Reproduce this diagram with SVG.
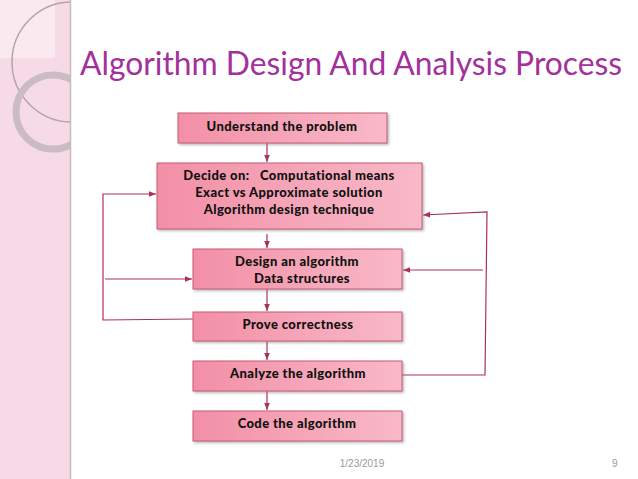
<svg xmlns="http://www.w3.org/2000/svg" width="638" height="479" viewBox="0 0 638 479">
<defs>
<linearGradient id="g" x1="0" y1="0" x2="1" y2="0"><stop offset="0" stop-color="#f28fa6"/><stop offset="1" stop-color="#f9b9c8"/></linearGradient>
<marker id="a" viewBox="0 0 10 10" refX="10" refY="5" markerWidth="6" markerHeight="6" orient="auto"><path d="M0,1 L10,5 L0,9 z" fill="#a8325a"/></marker>
<filter id="s" x="-5%" y="-10%" width="115%" height="130%"><feDropShadow dx="1.5" dy="1.5" stdDeviation="1" flood-color="#888" flood-opacity="0.6"/></filter>
<clipPath id="p"><rect width="70" height="479"/></clipPath>
</defs>
<style>
.b{fill:url(#g);stroke:#c85a78;stroke-width:1;filter:url(#s)}
.t{font-family:Lato,"Open Sans",sans-serif;font-weight:900;font-size:13px;letter-spacing:0.4px;fill:#111;text-anchor:middle}
.c{fill:none;stroke:#a8325a;stroke-width:1.2}
</style>
<rect width="638" height="479" fill="#fff"/>
<rect width="70" height="479" fill="#f6dbe6"/>
<g clip-path="url(#p)">
<rect x="0" y="0" width="55" height="58" fill="#fbeef3" opacity="0.8"/>
<circle cx="72" cy="62" r="60" fill="none" stroke="#b4a4ac" stroke-width="1.5"/>
<circle cx="53" cy="112" r="37" fill="none" stroke="#cbbcc3" stroke-width="7"/>
</g>
<line x1="70.5" y1="0" x2="70.5" y2="479" stroke="#c9b9c0" stroke-width="1.5"/>
<text x="80" y="75" font-family="Lato,'Open Sans',sans-serif" font-size="32" fill="#a3319c" textLength="542" lengthAdjust="spacingAndGlyphs">Algorithm Design And Analysis Process</text>
<g id="connectors">
<line class="c" x1="267" y1="143" x2="267" y2="162" marker-end="url(#a)"/>
<line class="c" x1="267" y1="234" x2="267" y2="248" marker-end="url(#a)"/>
<line class="c" x1="267" y1="289" x2="267" y2="311" marker-end="url(#a)"/>
<line class="c" x1="267" y1="341" x2="267" y2="360" marker-end="url(#a)"/>
<line class="c" x1="267" y1="391" x2="267" y2="410" marker-end="url(#a)"/>
<polyline class="c" points="193,319 103,320 103,194 156,194" marker-end="url(#a)"/>
<line class="c" x1="105" y1="279" x2="192" y2="279" marker-end="url(#a)"/>
<polyline class="c" points="402,375 485,375 487,212 423,215" marker-end="url(#a)"/>
<line class="c" x1="483" y1="270" x2="403" y2="270" marker-end="url(#a)"/>
</g>
<g id="n1"><rect class="b" x="178" y="113" width="209" height="30"/><text class="t" x="282" y="131">Understand the problem</text></g>
<g id="n2"><rect class="b" x="157" y="163" width="265" height="66"/><text class="t" x="289" y="180" xml:space="preserve">Decide on:   Computational means</text><text class="t" x="289" y="197">Exact vs Approximate solution</text><text class="t" x="289" y="214">Algorithm design technique</text></g>
<g id="n3"><rect class="b" x="193" y="249" width="209" height="40"/><text class="t" x="297" y="266">Design an algorithm</text><text class="t" x="302" y="283">Data structures</text></g>
<g id="n4"><rect class="b" x="193" y="312" width="209" height="29"/><text class="t" x="298" y="329">Prove correctness</text></g>
<g id="n5"><rect class="b" x="193" y="361" width="209" height="30"/><text class="t" x="298" y="378">Analyze the algorithm</text></g>
<g id="n6"><rect class="b" x="193" y="411" width="209" height="30"/><text class="t" x="297" y="428">Code the algorithm</text></g>
<text x="362" y="467" font-family="'Liberation Sans',sans-serif" font-size="10" fill="#999" text-anchor="middle">1/23/2019</text>
<text x="612" y="467" font-family="'Liberation Sans',sans-serif" font-size="10" fill="#999">9</text>
</svg>
